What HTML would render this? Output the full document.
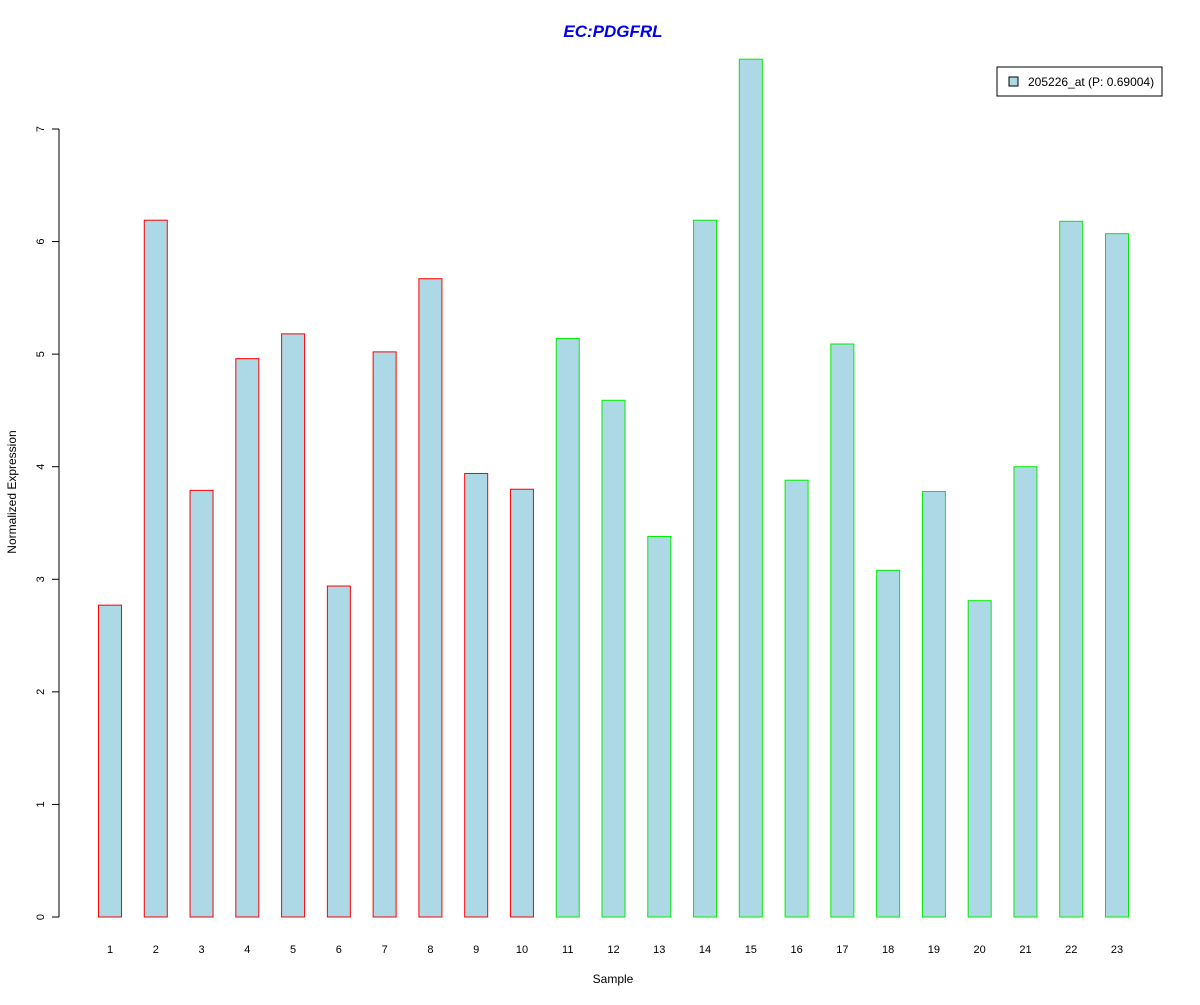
<!DOCTYPE html>
<html><head><meta charset="utf-8"><style>
body{margin:0;background:#fff;}
svg{font-family:"Liberation Sans",Arial,sans-serif;}
</style></head><body>
<svg id="chart" width="1200" height="1000" xmlns="http://www.w3.org/2000/svg">
<rect width="1200" height="1000" fill="#fff"/>
<text x="613" y="37" text-anchor="middle" font-size="17" font-weight="bold" font-style="italic" fill="#0000ee">EC:PDGFRL</text>
<text transform="translate(16,492) rotate(-90)" text-anchor="middle" font-size="12">Normalized Expression</text>
<text x="613" y="983" text-anchor="middle" font-size="12">Sample</text>
<g id="yaxis"></g>
<g id="bars"></g>
<g id="xlabels"></g>
<g>
<rect x="997" y="67" width="165" height="29" fill="#fff" stroke="#000" stroke-width="1"/>
<rect x="1009" y="77" width="9" height="9" fill="#add8e6" stroke="#000" stroke-width="1"/>
<text x="1028" y="86" font-size="12">205226_at (P: 0.69004)</text>
</g>
</svg>
<script>
const categories=["1","2","3","4","5","6","7","8","9","10","11","12","13","14","15","16","17","18","19","20","21","22","23"];
const values=[2.77,6.19,3.79,4.96,5.18,2.94,5.02,5.67,3.94,3.80,5.14,4.59,3.38,6.19,7.62,3.88,5.09,3.08,3.78,2.81,4.00,6.18,6.07];
const groups=["a","a","a","a","a","a","a","a","a","a","b","b","b","b","b","b","b","b","b","b","b","b","b"];
const yTicks=[0,1,2,3,4,5,6,7];
const NS="http://www.w3.org/2000/svg";
const y=v=>917-v*(917-129)/7;
const xc=i=>110+i*(1117-110)/22;
const bw=23;
function mk(tag,attrs,parent){const e=document.createElementNS(NS,tag);for(const k in attrs)e.setAttribute(k,attrs[k]);parent.appendChild(e);return e;}
const ya=document.getElementById('yaxis');
mk('line',{x1:59,x2:59,y1:y(0),y2:y(7),stroke:'#000'},ya);
yTicks.forEach(t=>{
  const l=mk('line',{x1:52,x2:59,y1:y(t),y2:y(t),stroke:'#000'},ya);
  
  
  const tx=mk('text',{transform:`translate(44,${y(t)}) rotate(-90)`,'text-anchor':'middle','font-size':11},ya);
  tx.textContent=t;
  
  
});
const bg=document.getElementById('bars'),xl=document.getElementById('xlabels');
values.forEach((v,i)=>{
  const r=mk('rect',{x:xc(i)-bw/2,y:y(v),width:bw,height:y(0)-y(v),fill:'#add8e6',stroke:groups[i]==='a'?'#ff0000':'#00ee00','stroke-width':1},bg);
  
  
  const t=mk('text',{x:xc(i),y:953,'text-anchor':'middle','font-size':11},xl);
  t.textContent=categories[i];
  
  
});
</script>
</body></html>
